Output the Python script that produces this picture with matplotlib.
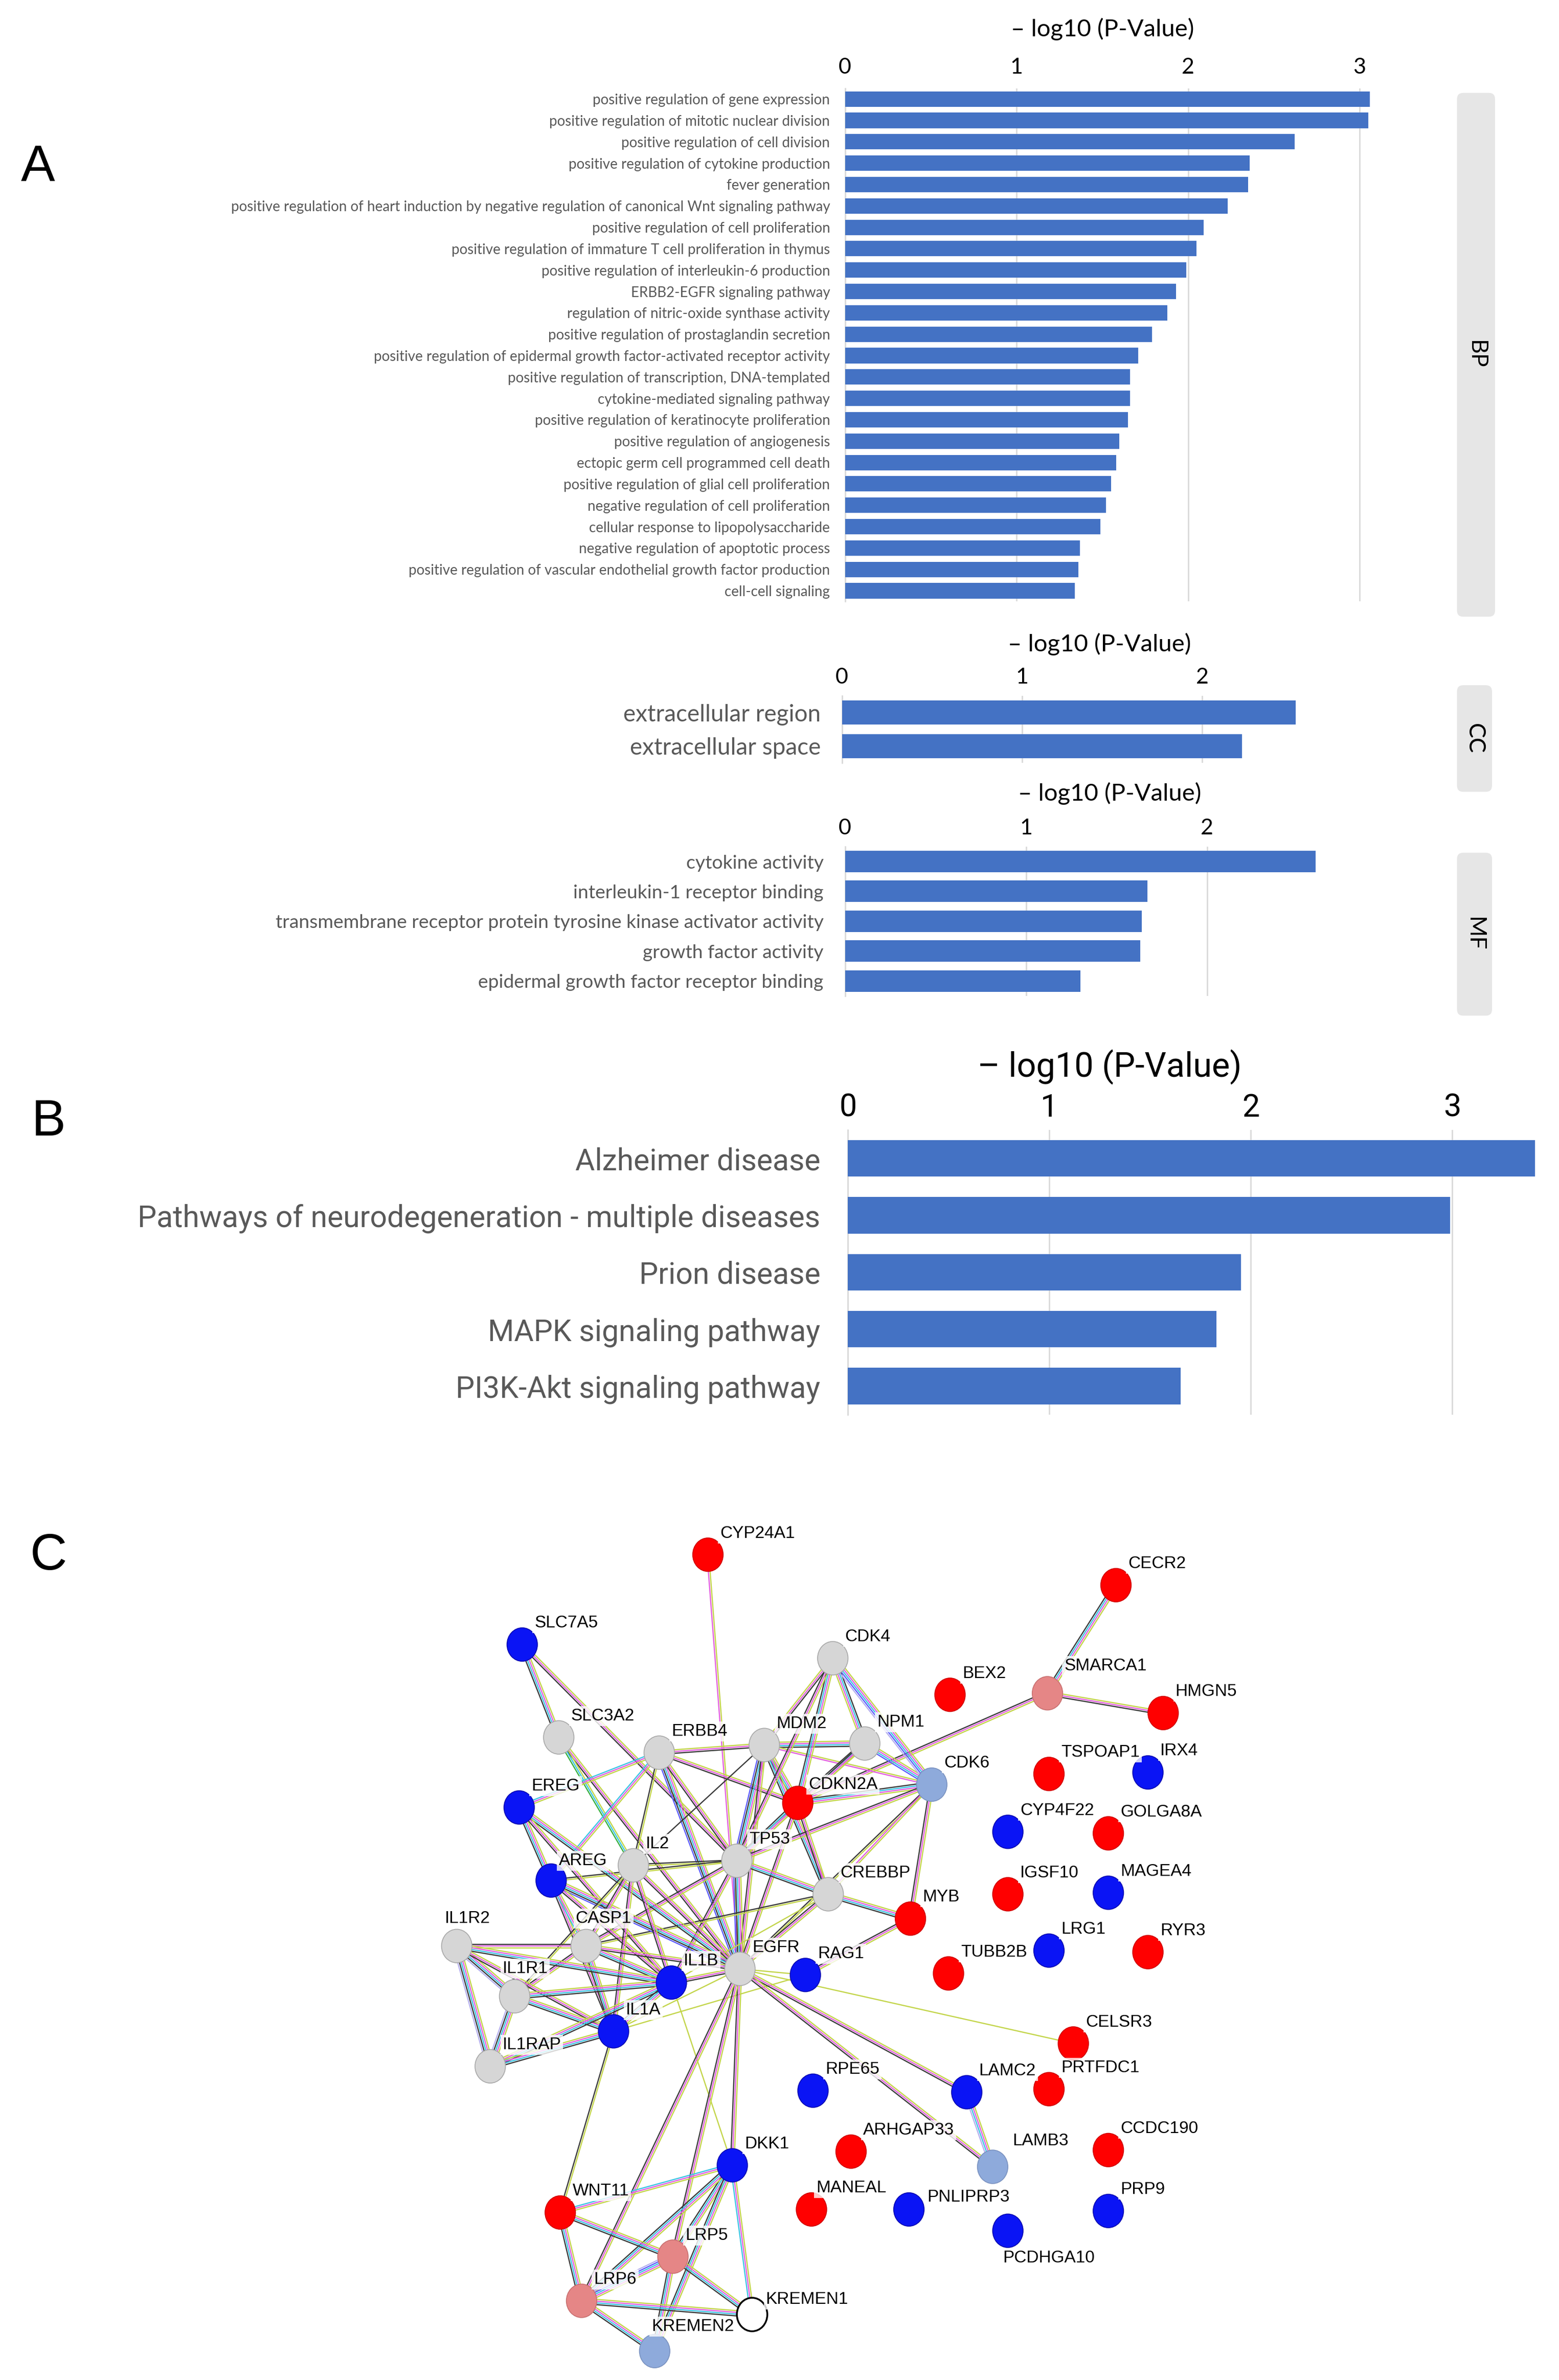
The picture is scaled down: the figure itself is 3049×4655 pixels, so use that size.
import numpy as np
import matplotlib
matplotlib.use('Agg')
import matplotlib.pyplot as plt
from matplotlib.patches import Ellipse, FancyBboxPatch

# layout grid (the picture was measured on a 1024 x 1563 grid)
W, H = 1024, 1563

# ---------------- data ----------------
bp_terms = [
    'positive regulation of gene expression',
    'positive regulation of mitotic nuclear division',
    'positive regulation of cell division',
    'positive regulation of cytokine production',
    'fever generation',
    'positive regulation of heart induction by negative regulation of canonical Wnt signaling pathway',
    'positive regulation of cell proliferation',
    'positive regulation of immature T cell proliferation in thymus',
    'positive regulation of interleukin-6 production',
    'ERBB2-EGFR signaling pathway',
    'regulation of nitric-oxide synthase activity',
    'positive regulation of prostaglandin secretion',
    'positive regulation of epidermal growth factor-activated receptor activity',
    'positive regulation of transcription, DNA-templated',
    'cytokine-mediated signaling pathway',
    'positive regulation of keratinocyte proliferation',
    'positive regulation of angiogenesis',
    'ectopic germ cell programmed cell death',
    'positive regulation of glial cell proliferation',
    'negative regulation of cell proliferation',
    'cellular response to lipopolysaccharide',
    'negative regulation of apoptotic process',
    'positive regulation of vascular endothelial growth factor production',
    'cell-cell signaling',
]
bp_values = [3.06, 3.05, 2.62, 2.36, 2.35, 2.23, 2.09, 2.05, 1.99, 1.93, 1.88, 1.79,
             1.71, 1.66, 1.66, 1.65, 1.60, 1.58, 1.55, 1.52, 1.49, 1.37, 1.36, 1.34]

cc_terms = ['extracellular region', 'extracellular space']
cc_values = [2.52, 2.22]

mf_terms = ['cytokine activity',
            'interleukin-1 receptor binding',
            'transmembrane receptor protein tyrosine kinase activator activity',
            'growth factor activity',
            'epidermal growth factor receptor binding']
mf_values = [2.60, 1.67, 1.64, 1.63, 1.30]

kegg_terms = ['Alzheimer disease',
              'Pathways of neurodegeneration - multiple diseases',
              'Prion disease',
              'MAPK signaling pathway',
              'PI3K-Akt signaling pathway']
kegg_values = [3.41, 2.99, 1.95, 1.83, 1.65]

axis_title = '\u2013 log10 (P-Value)'

# network (STRING export): node layout, group and interactions
node_names = ['CYP24A1', 'CECR2', 'SLC7A5', 'CDK4', 'BEX2', 'SMARCA1', 'HMGN5', 'SLC3A2',
              'ERBB4', 'MDM2', 'NPM1', 'CDK6', 'TSPOAP1', 'IRX4', 'EREG', 'CDKN2A',
              'CYP4F22', 'GOLGA8A', 'TP53', 'IL2', 'AREG', 'CREBBP', 'IGSF10', 'MAGEA4',
              'MYB', 'IL1R2', 'CASP1', 'LRG1', 'RYR3', 'EGFR', 'RAG1', 'TUBB2B',
              'IL1B', 'IL1R1', 'IL1A', 'CELSR3', 'IL1RAP', 'RPE65', 'LAMC2', 'PRTFDC1',
              'DKK1', 'ARHGAP33', 'LAMB3', 'CCDC190', 'WNT11', 'MANEAL', 'PNLIPRP3', 'PRP9',
              'PCDHGA10', 'LRP5', 'LRP6', 'KREMEN1', 'KREMEN2']
node_x = [465, 733, 343, 547, 624, 688, 764, 367,
          433, 502, 568, 612, 689, 754, 341, 524,
          662, 728, 484, 416, 362, 544, 662, 728,
          598, 300, 385, 689, 754, 486, 529, 623,
          441, 338, 403, 705, 322, 534, 635, 689,
          481, 559, 652, 728, 368, 533, 597, 728,
          662, 442, 382, 494, 430]
node_y = [1021, 1041, 1080, 1089, 1113, 1112, 1125, 1141,
          1151, 1146, 1145, 1172, 1165, 1164, 1187, 1184,
          1203, 1204, 1222, 1225, 1235, 1244, 1244, 1243,
          1260, 1278, 1278, 1281, 1282, 1293, 1297, 1296,
          1302, 1311, 1334, 1342, 1357, 1373, 1374, 1372,
          1422, 1413, 1423, 1412, 1453, 1451, 1451, 1452,
          1465, 1482, 1511, 1520, 1544]
node_group = ['up', 'up', 'down', 'hub', 'up', 'mid_up', 'up', 'hub',
              'hub', 'hub', 'hub', 'mid_down', 'up', 'down', 'down', 'up',
              'down', 'up', 'hub', 'hub', 'down', 'hub', 'up', 'down',
              'up', 'hub', 'hub', 'down', 'up', 'hub', 'down', 'up',
              'down', 'hub', 'down', 'up', 'hub', 'down', 'down', 'up',
              'down', 'up', 'mid_down', 'up', 'up', 'up', 'down', 'down',
              'down', 'mid_up', 'mid_up', 'none', 'mid_down']

# evidence codes: y text mining, k co-expression, m experiments, c databases,
# b co-occurrence, g neighborhood, p homology
edges = [
    ('CYP24A1', 'EGFR', 'ym'), ('CECR2', 'SMARCA1', 'ymck'), ('SMARCA1', 'HMGN5', 'ymk'),
    ('SMARCA1', 'CDKN2A', 'ymk'), ('SLC7A5', 'SLC3A2', 'ymck'), ('SLC7A5', 'TP53', 'ymk'),
    ('SLC3A2', 'EGFR', 'ymk'), ('SLC3A2', 'IL2', 'ycg'), ('ERBB4', 'EGFR', 'ymckb'),
    ('ERBB4', 'CDKN2A', 'ymk'), ('ERBB4', 'TP53', 'ymk'), ('ERBB4', 'EREG', 'ymc'),
    ('ERBB4', 'AREG', 'ymc'), ('ERBB4', 'MDM2', 'ymk'), ('ERBB4', 'IL2', 'yk'),
    ('MDM2', 'TP53', 'ymckb'), ('MDM2', 'CDKN2A', 'ymck'), ('MDM2', 'NPM1', 'ymck'),
    ('MDM2', 'CDK4', 'ymk'), ('MDM2', 'EGFR', 'ymk'), ('MDM2', 'CREBBP', 'ymck'),
    ('MDM2', 'CDK6', 'ym'), ('MDM2', 'IL2', 'k'), ('NPM1', 'CDK4', 'ymck'),
    ('NPM1', 'CDKN2A', 'ymck'), ('NPM1', 'CDK6', 'ymcb'), ('NPM1', 'TP53', 'ymk'),
    ('CDK4', 'CDKN2A', 'ymck'), ('CDK4', 'CDK6', 'ymcbp'), ('CDK4', 'TP53', 'ymk'),
    ('CDK6', 'CDKN2A', 'ymck'), ('CDK6', 'TP53', 'ymk'), ('CDK6', 'MYB', 'ymk'),
    ('CDK6', 'EGFR', 'yk'), ('CDK6', 'CREBBP', 'ym'), ('CDKN2A', 'TP53', 'ymck'),
    ('CDKN2A', 'EGFR', 'ymk'), ('CDKN2A', 'CREBBP', 'ymk'), ('TP53', 'EGFR', 'ymckb'),
    ('TP53', 'CREBBP', 'ymck'), ('TP53', 'IL2', 'yk'), ('TP53', 'IL1B', 'ymk'),
    ('TP53', 'CASP1', 'ymk'), ('TP53', 'AREG', 'yk'), ('CREBBP', 'MYB', 'ymck'),
    ('CREBBP', 'EGFR', 'ymk'), ('CREBBP', 'CASP1', 'yk'), ('CREBBP', 'IL1B', 'y'),
    ('MYB', 'RAG1', 'ymk'), ('EREG', 'EGFR', 'ymck'), ('EREG', 'AREG', 'ymck'),
    ('EREG', 'IL1B', 'ymk'), ('AREG', 'EGFR', 'ymckb'), ('AREG', 'IL1B', 'ymk'),
    ('AREG', 'IL1A', 'ymk'), ('AREG', 'CASP1', 'ymc'), ('IL2', 'EGFR', 'ymk'),
    ('IL2', 'IL1B', 'ymk'), ('IL2', 'IL1A', 'ymk'), ('IL2', 'CASP1', 'ymk'),
    ('IL2', 'IL1R1', 'yk'), ('CASP1', 'IL1B', 'ymck'), ('CASP1', 'IL1A', 'ymck'),
    ('CASP1', 'IL1R1', 'ymk'), ('CASP1', 'IL1R2', 'ymk'), ('CASP1', 'EGFR', 'ymk'),
    ('IL1R2', 'IL1R1', 'ymckp'), ('IL1R2', 'IL1RAP', 'ymckp'), ('IL1R2', 'IL1B', 'ymck'),
    ('IL1R2', 'IL1A', 'ymk'), ('IL1R1', 'IL1B', 'ymck'), ('IL1R1', 'IL1A', 'ymck'),
    ('IL1R1', 'IL1RAP', 'ymckp'), ('IL1RAP', 'IL1B', 'ymck'), ('IL1RAP', 'IL1A', 'ymck'),
    ('IL1B', 'IL1A', 'ymck'), ('IL1B', 'EGFR', 'ymk'), ('IL1B', 'DKK1', 'y'),
    ('IL1A', 'EGFR', 'y'), ('IL1A', 'WNT11', 'yk'), ('IL1A', 'RAG1', 'y'),
    ('EGFR', 'RAG1', 'y'), ('EGFR', 'CELSR3', 'y'), ('EGFR', 'LAMC2', 'ymk'),
    ('EGFR', 'LAMB3', 'ymk'), ('EGFR', 'DKK1', 'ymk'), ('EGFR', 'LRP5', 'ymk'),
    ('EGFR', 'LRP6', 'ymk'), ('DKK1', 'LRP5', 'ymck'), ('DKK1', 'LRP6', 'ymck'),
    ('DKK1', 'KREMEN1', 'ymc'), ('DKK1', 'KREMEN2', 'ymck'), ('DKK1', 'WNT11', 'ymc'),
    ('WNT11', 'LRP5', 'ymck'), ('WNT11', 'LRP6', 'ymck'), ('LRP5', 'LRP6', 'ymcbp'),
    ('LRP5', 'KREMEN1', 'ymck'), ('LRP5', 'KREMEN2', 'ymck'), ('LRP6', 'KREMEN1', 'ymck'),
    ('LRP6', 'KREMEN2', 'ymck'), ('LAMC2', 'LAMB3', 'ymcp'),
]

# ---------------- styles ----------------
BAR_BLUE = '#4472c4'
GRID = '#d9d9d9'
LABEL_GRAY = '#595959'
group_face = {'up': '#ff0000', 'down': '#0a14f5', 'hub': '#d6d6d6',
              'mid_up': '#e58686', 'mid_down': '#8eaadb', 'none': 'white'}
group_edge = {'up': '#d00000', 'down': '#0a0ab0', 'hub': '#a8a8a8',
              'mid_up': '#c87070', 'mid_down': '#7a92c0', 'none': 'black'}
ev_colors = {'y': '#c3d54a', 'k': '#3a3a3a', 'm': '#e35fe0', 'c': '#3cc4e3',
             'b': '#5c5cff', 'g': '#38b040', 'p': '#b6b0ee'}
label_shift = {'PCDHGA10': (27, 18, 'center'), 'KREMEN2': (-2, -16, 'left'),
               'IL1R1': (-8, -18, 'left'), 'IL1R2': (-8, -18, 'left'),
               'CASP1': (-7, -18, 'left'), 'PNLIPRP3': (12, -8, 'left'),
               'LAMB3': (13, -17, 'left'), 'SMARCA1': (11, -18, 'left'),
               'MANEAL': (3, -14, 'left'), 'CDKN2A': (7, -12, 'left'),
               'KREMEN1': (9, -10, 'left'), 'AREG': (5, -13, 'left')}

fig = plt.figure(figsize=(30.49, 46.55), dpi=100)


def box(left, top, right, bottom):
    return [left / W, 1 - bottom / H, (right - left) / W, (bottom - top) / H]


def bar_panel(rect, terms, values, xmax, ticks, label_size, tick_size, bar_h,
              label_pad, tick_pad, font):
    ax = fig.add_axes(rect)
    y = np.arange(len(terms))
    ax.barh(y, values, height=bar_h, color=BAR_BLUE, zorder=3)
    ax.set_xlim(0, xmax)
    ax.set_ylim(len(terms) - 0.5, -0.5)
    ax.set_yticks(y, terms)
    ax.set_xticks(ticks)
    ax.xaxis.tick_top()
    ax.tick_params(length=0)
    ax.tick_params(axis='y', labelsize=label_size, labelcolor=LABEL_GRAY, pad=label_pad)
    ax.tick_params(axis='x', labelsize=tick_size, labelcolor='black', pad=tick_pad)
    for lab in ax.get_yticklabels() + ax.get_xticklabels():
        lab.set_family(font)
    ax.grid(axis='x', color=GRID, lw=2, zorder=0)
    for s in ['top', 'right', 'bottom']:
        ax.spines[s].set_visible(False)
    ax.spines['left'].set_color(GRID)
    ax.spines['left'].set_linewidth(2)
    ax.set_facecolor('none')
    return ax


def strip(left, top, right, bottom, text):
    r = box(left, top, right, bottom)
    p = FancyBboxPatch((r[0], r[1]), r[2], r[3], transform=fig.transFigure,
                       boxstyle='round,pad=0,rounding_size=0.004',
                       mutation_aspect=3049 / 4655, fc='#e6e6e6', ec='none')
    fig.patches.append(p)
    fig.text(r[0] + r[2] / 2, r[1] + r[3] / 2, text, rotation=-90, fontsize=32,
             ha='center', va='center', family='Lato')


# ---------------- panel A ----------------
bar_panel(box(555, 58, 932.5, 395), bp_terms, bp_values, 3.35, [0, 1, 2, 3],
          20, 31, 0.72, 21, 16, 'Lato')
fig.text(724 / W, 1 - 19 / H, axis_title, fontsize=34, ha='center', va='center', family='Lato')
strip(957, 61, 982, 405, 'BP')

bar_panel(box(553, 457, 863, 501), cc_terms, cc_values, 2.62, [0, 1, 2],
          33, 31, 0.72, 30, 12, 'Lato')
fig.text(722 / W, 1 - 423 / H, axis_title, fontsize=34, ha='center', va='center', family='Lato')
strip(957, 450, 980, 520, 'CC')

bar_panel(box(555, 556, 876, 654), mf_terms, mf_values, 2.7, [0, 1, 2],
          26.8, 31, 0.72, 30, 12, 'Lato')
fig.text(729 / W, 1 - 521 / H, axis_title, fontsize=34, ha='center', va='center', family='Lato')
strip(957, 560, 980, 667, 'MF')

# ---------------- panel B ----------------
bar_panel(box(557, 742, 1009.5, 929), kegg_terms, kegg_values, 3.42, [0, 1, 2, 3],
          42.4, 44, 0.64, 39, 10, 'Roboto')
fig.text(729 / W, 1 - 701 / H, axis_title, fontsize=48, ha='center', va='center', family='Roboto')

# ---------------- panel C ----------------
axc = fig.add_axes(box(250, 985, 850, 1563))
axc.set_xlim(250, 850)
axc.set_ylim(1563, 985)
axc.axis('off')

pos = {n: np.array([x, y], float) for n, x, y in zip(node_names, node_x, node_y)}
for a, b, ev in edges:
    p, q = pos[a], pos[b]
    d = q - p
    nrm = np.array([-d[1], d[0]]) / np.hypot(*d)
    k = len(ev)
    for i, c in enumerate(ev):
        off = (i - (k - 1) / 2) * 1.15
        axc.plot([p[0] + nrm[0] * off, q[0] + nrm[0] * off],
                 [p[1] + nrm[1] * off, q[1] + nrm[1] * off],
                 color=ev_colors[c], lw=1.7, solid_capstyle='butt', zorder=1)

for n, x, y, g in zip(node_names, node_x, node_y, node_group):
    axc.add_patch(Ellipse((x, y), 20, 22, fc=group_face[g], ec=group_edge[g],
                          lw=2.5 if g == 'none' else 1.2, zorder=3))
    dx, dy, ha = label_shift.get(n, (8, -14, 'left'))
    axc.text(x + dx, y + dy, n, fontsize=24, family='Liberation Sans', ha=ha, va='center',
             zorder=4, bbox=dict(boxstyle='square,pad=0.12', fc='white', ec='none', alpha=0.8))

# panel letters
for letter, lx, ly in [('A', 25, 110), ('B', 32, 737), ('C', 32, 1022)]:
    fig.text(lx / W, 1 - ly / H, letter, fontsize=72, ha='center', va='center',
             family='Liberation Sans')

fig.savefig('out.png', dpi=100, facecolor='white')
